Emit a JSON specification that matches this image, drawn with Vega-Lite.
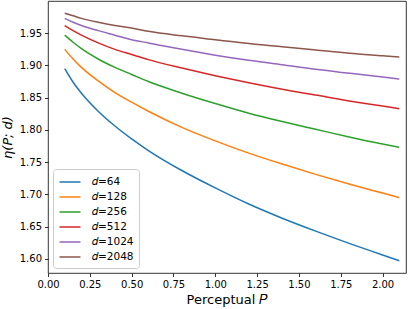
{
  "$schema": "https://vega.github.io/schema/vega-lite/v6.json",
  "width": 358,
  "height": 272,
  "autosize": {"type": "none"},
  "padding": {"left": 48, "top": 1, "right": 10, "bottom": 36},
  "config": {
    "font": "DejaVu Sans",
    "view": {"stroke": "#000000", "strokeWidth": 0.8},
    "axis": {"grid": false, "domain": false, "labelFlush": false, "tickColor": "#000000", "tickSize": 3.5, "tickWidth": 0.8, "labelColor": "#000000", "labelFontSize": 10, "labelFont": "DejaVu Sans", "titleFont": "DejaVu Sans", "titleFontWeight": "normal", "titleColor": "#000000", "titleFontSize": 13, "labelPadding": 3}
  },
  "data": {"values": [
    {"P":0.1,"eta":1.895,"d":64},{"P":0.15,"eta":1.874,"d":64},{"P":0.2,"eta":1.857,"d":64},{"P":0.3,"eta":1.829,"d":64},{"P":0.4,"eta":1.806,"d":64},{"P":0.5,"eta":1.786,"d":64},{"P":0.6,"eta":1.768,"d":64},{"P":0.8,"eta":1.737,"d":64},{"P":1.0,"eta":1.710,"d":64},{"P":1.2,"eta":1.685,"d":64},{"P":1.4,"eta":1.663,"d":64},{"P":1.6,"eta":1.643,"d":64},{"P":1.8,"eta":1.624,"d":64},{"P":2.0,"eta":1.606,"d":64},{"P":2.1,"eta":1.597,"d":64},
    {"P":0.1,"eta":1.925,"d":128},{"P":0.15,"eta":1.910,"d":128},{"P":0.2,"eta":1.897,"d":128},{"P":0.3,"eta":1.876,"d":128},{"P":0.4,"eta":1.858,"d":128},{"P":0.5,"eta":1.843,"d":128},{"P":0.6,"eta":1.829,"d":128},{"P":0.8,"eta":1.804,"d":128},{"P":1.0,"eta":1.783,"d":128},{"P":1.2,"eta":1.764,"d":128},{"P":1.4,"eta":1.747,"d":128},{"P":1.6,"eta":1.731,"d":128},{"P":1.8,"eta":1.716,"d":128},{"P":2.0,"eta":1.702,"d":128},{"P":2.1,"eta":1.695,"d":128},
    {"P":0.1,"eta":1.947,"d":256},{"P":0.15,"eta":1.936,"d":256},{"P":0.2,"eta":1.926,"d":256},{"P":0.3,"eta":1.910,"d":256},{"P":0.4,"eta":1.897,"d":256},{"P":0.5,"eta":1.886,"d":256},{"P":0.6,"eta":1.875,"d":256},{"P":0.8,"eta":1.857,"d":256},{"P":1.0,"eta":1.841,"d":256},{"P":1.2,"eta":1.826,"d":256},{"P":1.4,"eta":1.813,"d":256},{"P":1.6,"eta":1.801,"d":256},{"P":1.8,"eta":1.789,"d":256},{"P":2.0,"eta":1.778,"d":256},{"P":2.1,"eta":1.773,"d":256},
    {"P":0.1,"eta":1.962,"d":512},{"P":0.15,"eta":1.954,"d":512},{"P":0.2,"eta":1.947,"d":512},{"P":0.3,"eta":1.935,"d":512},{"P":0.4,"eta":1.925,"d":512},{"P":0.5,"eta":1.917,"d":512},{"P":0.6,"eta":1.909,"d":512},{"P":0.8,"eta":1.896,"d":512},{"P":1.0,"eta":1.884,"d":512},{"P":1.2,"eta":1.873,"d":512},{"P":1.4,"eta":1.863,"d":512},{"P":1.6,"eta":1.854,"d":512},{"P":1.8,"eta":1.845,"d":512},{"P":2.0,"eta":1.837,"d":512},{"P":2.1,"eta":1.833,"d":512},
    {"P":0.1,"eta":1.973,"d":1024},{"P":0.15,"eta":1.967,"d":1024},{"P":0.2,"eta":1.962,"d":1024},{"P":0.3,"eta":1.954,"d":1024},{"P":0.4,"eta":1.947,"d":1024},{"P":0.5,"eta":1.940,"d":1024},{"P":0.6,"eta":1.935,"d":1024},{"P":0.8,"eta":1.925,"d":1024},{"P":1.0,"eta":1.916,"d":1024},{"P":1.2,"eta":1.908,"d":1024},{"P":1.4,"eta":1.901,"d":1024},{"P":1.6,"eta":1.894,"d":1024},{"P":1.8,"eta":1.888,"d":1024},{"P":2.0,"eta":1.882,"d":1024},{"P":2.1,"eta":1.879,"d":1024},
    {"P":0.1,"eta":1.981,"d":2048},{"P":0.15,"eta":1.977,"d":2048},{"P":0.2,"eta":1.973,"d":2048},{"P":0.3,"eta":1.967,"d":2048},{"P":0.4,"eta":1.962,"d":2048},{"P":0.5,"eta":1.958,"d":2048},{"P":0.6,"eta":1.953,"d":2048},{"P":0.8,"eta":1.946,"d":2048},{"P":1.0,"eta":1.940,"d":2048},{"P":1.2,"eta":1.934,"d":2048},{"P":1.4,"eta":1.929,"d":2048},{"P":1.6,"eta":1.924,"d":2048},{"P":1.8,"eta":1.919,"d":2048},{"P":2.0,"eta":1.915,"d":2048},{"P":2.1,"eta":1.913,"d":2048}
  ]},
  "mark": {"type": "line", "strokeWidth": 1.5, "interpolate": "monotone", "clip": true},
  "encoding": {
    "x": {"field": "P", "type": "quantitative", "scale": {"domain": [0, 2.14], "nice": false, "zero": false},
      "axis": {"values": [0, 0.25, 0.5, 0.75, 1.0, 1.25, 1.5, 1.75, 2.0], "format": ".2f", "title": "Perceptual 𝑃", "titlePadding": 4}},
    "y": {"field": "eta", "type": "quantitative", "scale": {"domain": [1.578, 2.0], "nice": false, "zero": false},
      "axis": {"values": [1.6, 1.65, 1.7, 1.75, 1.8, 1.85, 1.9, 1.95], "format": ".2f", "title": "η(P; d)", "titleFontStyle": "italic", "titlePadding": 5}},
    "color": {"field": "d", "type": "nominal",
      "scale": {"domain": [64, 128, 256, 512, 1024, 2048], "range": ["#1f77b4", "#ff7f0e", "#2ca02c", "#d62728", "#9467bd", "#8c564b"]},
      "legend": {"title": null, "orient": "bottom-left", "offset": 5, "labelExpr": "'𝑑=' + datum.label", "symbolType": "M-1.5,0H1.5", "symbolStrokeWidth": 1.5, "symbolSize": 196, "symbolOffset": 4, "labelFontSize": 10.5, "labelFont": "DejaVu Sans", "labelColor": "#000000", "fillColor": "white", "strokeColor": "#cccccc", "cornerRadius": 3, "padding": 5, "rowPadding": 1, "labelOffset": 14}
    }
  }
}
